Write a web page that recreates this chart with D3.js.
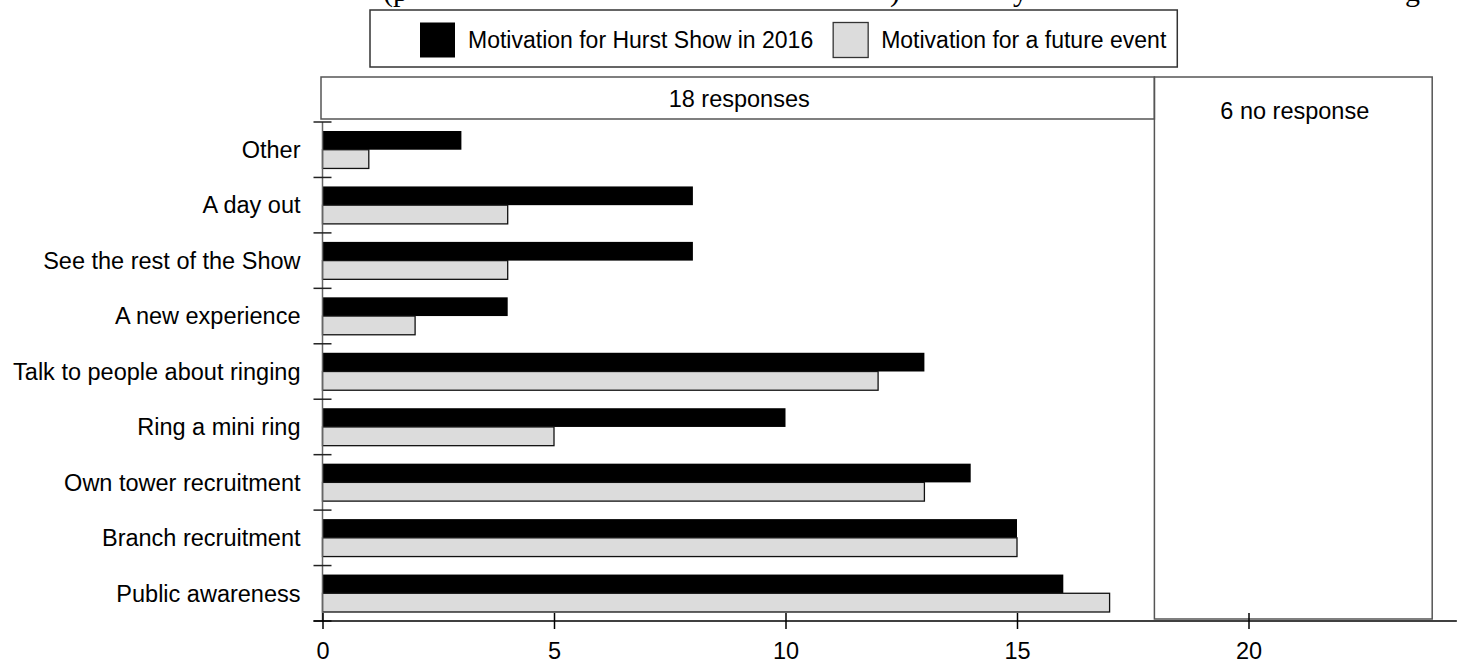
<!DOCTYPE html>
<html>
<head>
<meta charset="utf-8">
<script src="https://cdn.jsdelivr.net/npm/d3@7"></script>
<style>
  html, body { margin: 0; padding: 0; background: #ffffff; }
  svg { display: block; }
  text { font-family: "Liberation Sans", Arial, Helvetica, sans-serif; font-size: 23.5px; fill: #000000; }
  .caption { font-family: "Liberation Serif", "Times New Roman", serif; font-size: 30px; }
</style>
</head>
<body>
<svg id="chart" width="1463" height="668"></svg>
<script>
// categories, top to bottom as drawn
var categories = ["Other", "A day out", "See the rest of the Show", "A new experience",
	"Talk to people about ringing", "Ring a mini ring", "Own tower recruitment",
	"Branch recruitment", "Public awareness"];

// counts
var hurst2016 = [3, 8, 8, 4, 13, 10, 14, 15, 16];
var futureEvent = [1, 4, 4, 2, 12, 5, 13, 15, 17];

var seriesNames = ["Motivation for Hurst Show in 2016", "Motivation for a future event"];
var seriesColors = ["#000000", "#dcdcdc"];

// response / no response split of the 24 people asked
var groupLabels = ["18 responses", "6 no response"];
var groupStarts = [0, 18];
var groupEnds = [18, 24];

var xTicks = [0, 5, 10, 15, 20];

var svg = d3.select("#chart");

var x = d3.scaleLinear().domain([0, 24]).range([322.5, 322.5 + 24 * 46.3]);
var y = d3.scaleBand().domain(categories).range([122, 621]);
var ySeries = d3.scaleBand().domain([0, 1]).range([9, y.bandwidth() - 9]);

var rows = categories.map(function(c, i)
{
	return { cat: c, values: [hurst2016[i], futureEvent[i]] };
});

// cropped caption line above the chart (only the descenders show)
var caption = svg.append("g");
caption.append("text").attr("class", "caption").attr("x", 383).attr("y", 1).text("(p");
caption.append("text").attr("class", "caption").attr("x", 890).attr("y", 1).text(")");
caption.append("text").attr("class", "caption").attr("x", 1013).attr("y", 1).text("y");
caption.append("text").attr("class", "caption").attr("x", 1405).attr("y", 1).text("g");

// response boxes
var groups = svg.append("g");
groupLabels.forEach(function(lbl, i)
{
	var top = 77;
	var bottom = i == 0 ? 119 : 619;
	groups.append("rect")
		.attr("x", x(groupStarts[i]) - 1.5)
		.attr("y", top)
		.attr("width", x(groupEnds[i]) - x(groupStarts[i]))
		.attr("height", bottom - top)
		.attr("fill", "none")
		.attr("stroke", "#555555")
		.attr("stroke-width", 1.5);
	groups.append("text")
		.attr("x", (x(groupStarts[i]) + x(groupEnds[i])) / 2)
		.attr("y", i == 0 ? 107 : 119)
		.attr("text-anchor", "middle")
		.text(lbl);
});

// bars
var barG = svg.append("g");
var rowG = barG.selectAll("g.row").data(rows).enter().append("g")
	.attr("class", "row")
	.attr("transform", function(d) { return "translate(0," + y(d.cat) + ")"; });

rowG.selectAll("rect").data(function(d) { return d.values; }).enter().append("rect")
	.attr("x", x(0))
	.attr("y", function(d, i) { return ySeries(i); })
	.attr("width", function(d) { return x(d) - x(0); })
	.attr("height", ySeries.bandwidth())
	.attr("fill", function(d, i) { return seriesColors[i]; })
	.attr("stroke", function(d, i) { return i == 0 ? "none" : "#111111"; })
	.attr("stroke-width", 1.3);

// y axis: labels only, ticks drawn at band boundaries
var yAxis = svg.append("g").attr("transform", "translate(" + x(0) + ",0)")
	.call(d3.axisLeft(y).tickSize(0).tickPadding(22));
yAxis.select(".domain").remove();
yAxis.selectAll("text").style("font-size", "23.5px").style("font-family", null).attr("dy", "0.35em");

var bounds = categories.map(function(c) { return y(c); }).concat([y.range()[1]]);
svg.append("line")
	.attr("x1", x(0)).attr("x2", x(0))
	.attr("y1", y.range()[0]).attr("y2", y.range()[1])
	.attr("stroke", "#666666").attr("stroke-width", 1.5);
svg.append("g").selectAll("line").data(bounds).enter().append("line")
	.attr("x1", x(0) - 9).attr("x2", x(0) + 9)
	.attr("y1", function(d) { return d; }).attr("y2", function(d) { return d; })
	.attr("stroke", "#222222").attr("stroke-width", 1.5);

// x axis, ticks crossing the line
var axisY = y.range()[1];
var xAxis = svg.append("g").attr("transform", "translate(0," + axisY + ")")
	.call(d3.axisBottom(x).tickValues(xTicks).tickSize(8).tickPadding(13));
xAxis.select(".domain").remove();
xAxis.selectAll(".tick line").attr("y1", -8).attr("y2", 8).attr("stroke", "#000000").attr("stroke-width", 1.5);
xAxis.selectAll("text").style("font-size", "23.5px").style("font-family", null);
svg.append("line")
	.attr("x1", x(0) - 9).attr("x2", x(24.5))
	.attr("y1", axisY).attr("y2", axisY)
	.attr("stroke", "#000000").attr("stroke-width", 1.5);

// legend
var legend = svg.append("g");
var boxLeft = 370;
var lx = 420;
seriesNames.forEach(function(name, i)
{
	legend.append("rect")
		.attr("x", lx).attr("y", 22.5)
		.attr("width", 35).attr("height", 35)
		.attr("fill", seriesColors[i])
		.attr("stroke", i == 0 ? "none" : "#333333")
		.attr("stroke-width", 1.3);
	var t = legend.append("text")
		.attr("x", lx + 48).attr("y", 48)
		.style("font-size", "23px")
		.text(name);
	lx += 48 + t.node().getComputedTextLength() + 20;
});
legend.insert("rect", ":first-child")
	.attr("x", boxLeft).attr("y", 10)
	.attr("width", lx - 20 + 11 - boxLeft).attr("height", 57)
	.attr("fill", "#ffffff")
	.attr("stroke", "#333333").attr("stroke-width", 1.5);
</script>
</body>
</html>
